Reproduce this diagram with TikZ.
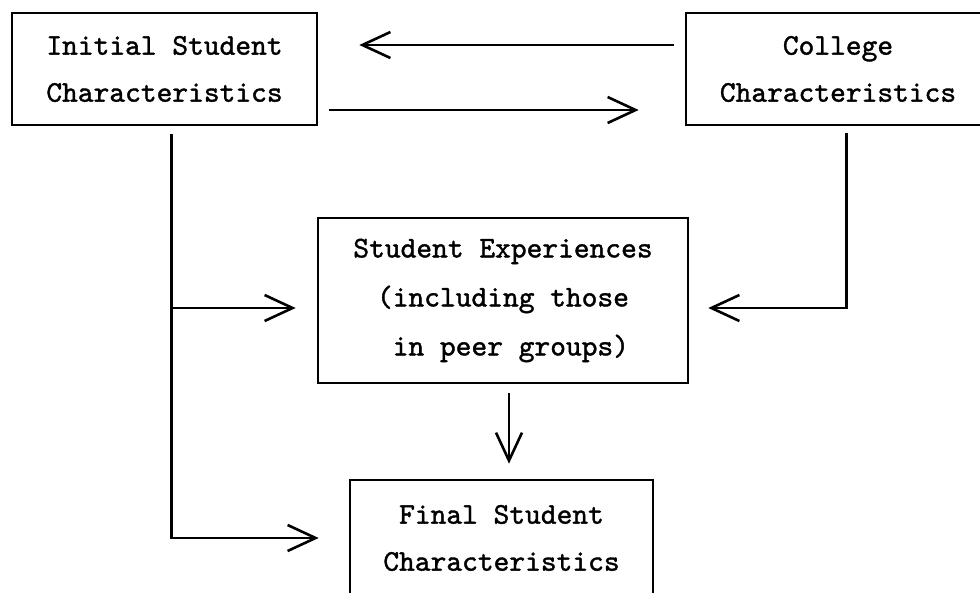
\documentclass[tikz,border=0pt]{standalone}
\usepackage{fontspec}
\newfontfamily\tw{lmmono10-regular.otf}[FakeBold=1.3]
\usetikzlibrary{arrows.meta,calc}
\begin{document}
\begin{tikzpicture}[x=1pt,y=-1pt,
  box/.style={draw,line width=2.6pt,inner sep=0pt,align=center,font=\tw\fontsize{30}{47}\selectfont},
  con/.style={line width=2.6pt},
  arr/.style={con,-{Straight Barb[length=28pt,width=26pt]}}]
\useasboundingbox (0,0) rectangle (980,592);
\clip (0,0) rectangle (980,592);
\fill[white] (0,0) rectangle (980,592);
\node[box,minimum width=305pt,minimum height=112pt] (A) at (164.5,69) {Initial Student\\Characteristics};
\node[box,minimum width=304pt,minimum height=112pt] (B) at (838,69) {College\\Characteristics};
\node[box,minimum width=370pt,minimum height=165pt,font=\tw\fontsize{30}{49}\selectfont] (C) at (503,300.5) {Student Experiences\\(including those\\\hphantom{x}in peer groups)};
\node[box,minimum width=303pt,minimum height=116pt] (D) at (501.5,538) {Final Student\\Characteristics};
% top arrows
\draw[arr] ($(B.west)+(-11,-24)$) -- ($(A.east)+(41,-24)$);
\draw[arr] ($(A.east)+(11,41)$) -- ($(B.west)+(-46,41)$);
% left trunk
\coordinate (ltop) at ($(A.south west)+(161,8)$);
\coordinate (lbot) at ($(D.west)+(-177,0)$);
\coordinate (lmid) at ($(ltop |- C.west)+(0,7.5)$);
\draw[arr] (ltop) -- (lbot) -- ($(D.west)+(-30,0)$);
\draw[arr] (lmid) -- ($(C.west)+(-21,7.5)$);
% right trunk
\coordinate (rtop) at ($(B.south west)+(162,7)$);
\coordinate (rmid) at (rtop |- lmid);
\draw[arr] (rtop) -- (rmid) -- ($(C.east)+(19,7.5)$);
% middle down
\draw[arr] ($(C.south)+(6,9)$) -- ($(D.north)+(7.5,-15)$);
\end{tikzpicture}
\end{document}
